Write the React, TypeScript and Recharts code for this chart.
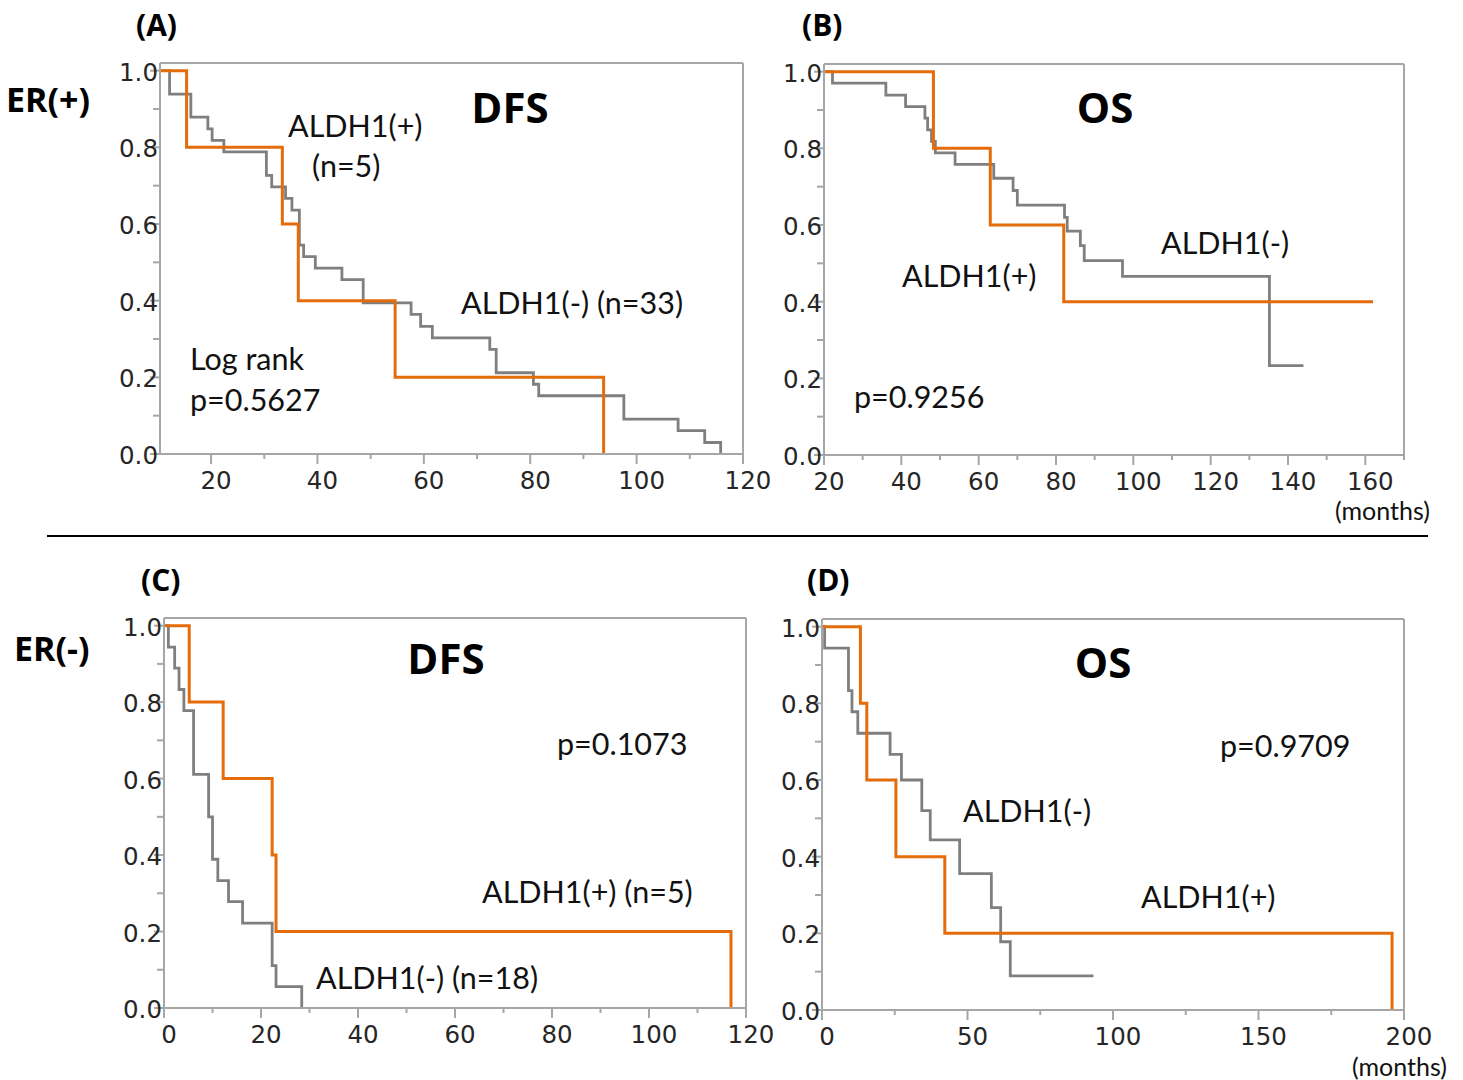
import React from "react";
import { LineChart, Line, XAxis, YAxis, ReferenceLine } from "recharts";

// survival curves: time (months) at which survival becomes the value at the same index,
// last entry is the end of follow-up

// (A) ER(+) DFS
const aNegTime = [0, 12.2, 16.2, 19.4, 20.2, 22.4, 30.4, 31.4, 34, 35.2, 36.6, 37.4, 39.6, 44.6, 48.6, 57.6, 59.4, 61.6, 72.4, 73.6, 80.6, 81.6, 97.6, 107.8, 112.8, 115.8];
const aNegSurv = [1, 0.939, 0.879, 0.848, 0.818, 0.788, 0.727, 0.697, 0.667, 0.636, 0.545, 0.515, 0.485, 0.455, 0.394, 0.364, 0.333, 0.303, 0.273, 0.212, 0.182, 0.152, 0.091, 0.061, 0.03, 0];
const aPosTime = [0, 15.4, 33.4, 36.4, 54.6, 93.8];
const aPosSurv = [1, 0.8, 0.6, 0.4, 0.2, 0];

// (B) ER(+) OS
const bNegTime = [0, 22.2, 36, 41.1, 46.1, 46.8, 47.8, 48.8, 53.9, 63.9, 68.9, 70, 82.2, 82.9, 86.3, 87.3, 97.2, 135.2, 144];
const bNegSurv = [1, 0.97, 0.939, 0.909, 0.879, 0.848, 0.818, 0.788, 0.758, 0.722, 0.69, 0.652, 0.62, 0.584, 0.546, 0.507, 0.466, 0.233, 0.233];
const bPosTime = [0, 48.3, 63, 82, 162];
const bPosSurv = [1, 0.8, 0.6, 0.4, 0.4];

// (C) ER(-) DFS
const cNegTime = [0, 0.9, 2.2, 3.1, 4.1, 6.1, 9.2, 10, 11.1, 13.3, 16.2, 22.3, 23.1, 28.4];
const cNegSurv = [1, 0.944, 0.889, 0.833, 0.778, 0.611, 0.5, 0.389, 0.333, 0.278, 0.222, 0.111, 0.056, 0];
const cPosTime = [0, 5.2, 12.2, 22.3, 23.1, 116.9];
const cPosSurv = [1, 0.8, 0.6, 0.4, 0.2, 0];

// (D) ER(-) OS
const dNegTime = [0, 0.9, 9.1, 10.3, 12.3, 23.4, 27.3, 34.3, 37.2, 47.3, 58.2, 61.4, 64.7, 93.3];
const dNegSurv = [1, 0.944, 0.833, 0.778, 0.722, 0.667, 0.6, 0.52, 0.444, 0.356, 0.267, 0.178, 0.089, 0.089];
const dPosTime = [0, 13.2, 15.4, 25.4, 42.2, 195.9];
const dPosSurv = [1, 0.8, 0.6, 0.4, 0.2, 0];

const yTicks = [0, 0.1, 0.2, 0.3, 0.4, 0.5, 0.6, 0.7, 0.8, 0.9, 1.0];
const aTicks = [20, 30, 40, 50, 60, 70, 80, 90, 100, 110, 120];
const bTicks = [20, 30, 40, 50, 60, 70, 80, 90, 100, 110, 120, 130, 140, 150, 160, 170];
const cTicks = [0, 10, 20, 30, 40, 50, 60, 70, 80, 90, 100, 110, 120];
const dTicks = [0, 25, 50, 75, 100, 125, 150, 175, 200];

const GRAY = "#7f7f7f";
const ORANGE = "#e46c0a";
const FRAME = "#a6a6a6";
const TICK_FONT = "'DejaVu Sans', sans-serif";
const TEXT_FONT = "Lato, sans-serif";
const BOLD_FONT = "'Open Sans', sans-serif";

const toRows = (t: number[], s: number[]) => t.map((v, i) => ({ t: v, s: s[i] }));

const renderYTick = (props: any) => {
  const { x, y, payload } = props;
  const v = payload.value;
  const major = Math.round(v * 10) % 2 === 0;
  return (
    <g>
      <line x1={x - (major ? 10 : 7)} x2={x} y1={y} y2={y} stroke={FRAME} strokeWidth={2} />
      {major && (
        <text x={x - 2} y={y + 10} textAnchor="end" fontFamily={TICK_FONT} fontSize={24.5} fill="#262626">
          {v.toFixed(1)}
        </text>
      )}
    </g>
  );
};

const makeXTick = (step: number) => (props: any) => {
  const { x, y, payload } = props;
  const major = payload.value % step === 0;
  return (
    <g>
      <line x1={x} x2={x} y1={y} y2={y + (major ? 10 : 5)} stroke={FRAME} strokeWidth={2} />
      {major && (
        <text x={x + 5} y={y + 35} textAnchor="middle" fontFamily={TICK_FONT} fontSize={24.5} fill="#262626">
          {payload.value}
        </text>
      )}
    </g>
  );
};

interface PanelProps {
  left: number;
  top: number;
  w: number;
  h: number;
  xDomain: [number, number];
  xTicks: number[];
  step: number;
  neg: { t: number; s: number }[];
  pos: { t: number; s: number }[];
}

const Panel = ({ left, top, w, h, xDomain, xTicks, step, neg, pos }: PanelProps) => (
  <div style={{ position: "absolute", left: left - 80, top: top - 10 }}>
    <LineChart width={w + 125} height={h + 70} margin={{ top: 10, right: 45, bottom: 0, left: 0 }}>
      <XAxis
        type="number"
        dataKey="t"
        domain={xDomain}
        ticks={xTicks}
        interval={0}
        allowDataOverflow
        height={60}
        tickSize={0}
        tickMargin={0}
        tickLine={false}
        axisLine={{ stroke: FRAME, strokeWidth: 2 }}
        tick={makeXTick(step)}
      />
      <YAxis
        type="number"
        domain={[0, 1.02]}
        ticks={yTicks}
        interval={0}
        allowDataOverflow
        width={80}
        tickSize={0}
        tickMargin={0}
        tickLine={false}
        axisLine={{ stroke: FRAME, strokeWidth: 2 }}
        tick={renderYTick}
      />
      <ReferenceLine y={1.02} stroke={FRAME} strokeWidth={2} />
      <ReferenceLine x={xDomain[1]} stroke={FRAME} strokeWidth={2} />
      <Line data={neg} dataKey="s" type="stepAfter" stroke={GRAY} strokeWidth={2.8} dot={false} isAnimationActive={false} />
      <Line data={pos} dataKey="s" type="stepAfter" stroke={ORANGE} strokeWidth={3} dot={false} isAnimationActive={false} />
    </LineChart>
  </div>
);

const T = ({ x, y, children, size = 30.5 }: any) => (
  <text x={x} y={y} fontFamily={TEXT_FONT} fontSize={size} fill="#111">
    {children}
  </text>
);

const B = ({ x, y, children, size = 42, anchor = "start" }: any) => (
  <text x={x} y={y} fontFamily={BOLD_FONT} fontWeight={700} fontSize={size} fill="#000" textAnchor={anchor}>
    {children}
  </text>
);

export default function App() {
  return (
    <div style={{ position: "absolute", left: 0, top: 0, width: 1463, height: 1080, background: "#fff", overflow: "hidden" }}>
      <Panel left={160} top={63} w={583} h={391} xDomain={[10.4, 120]} xTicks={aTicks} step={20}
        neg={toRows(aNegTime, aNegSurv)} pos={toRows(aPosTime, aPosSurv)} />
      <Panel left={824} top={64} w={580} h={391} xDomain={[20, 170]} xTicks={bTicks} step={20}
        neg={toRows(bNegTime, bNegSurv)} pos={toRows(bPosTime, bPosSurv)} />
      <Panel left={164} top={618} w={582} h={390} xDomain={[0, 120]} xTicks={cTicks} step={20}
        neg={toRows(cNegTime, cNegSurv)} pos={toRows(cPosTime, cPosSurv)} />
      <Panel left={822} top={619} w={582} h={391} xDomain={[0, 200]} xTicks={dTicks} step={50}
        neg={toRows(dNegTime, dNegSurv)} pos={toRows(dPosTime, dPosSurv)} />

      <svg width={1463} height={1080} style={{ position: "absolute", left: 0, top: 0, pointerEvents: "none" }}>
        <line x1={47} x2={1428} y1={536} y2={536} stroke="#000" strokeWidth={2} />

        <B x={136} y={36} size={30}>(A)</B>
        <B x={802} y={36} size={30}>(B)</B>
        <B x={141} y={591} size={30}>(C)</B>
        <B x={807} y={591} size={30}>(D)</B>
        <B x={6} y={112} size={34}>ER(+)</B>
        <B x={14} y={661} size={34}>ER(-)</B>

        <B x={510} y={123} anchor="middle">DFS</B>
        <B x={1105} y={123} anchor="middle">OS</B>
        <B x={446} y={674} anchor="middle">DFS</B>
        <B x={1103} y={678} anchor="middle">OS</B>

        <T x={288} y={137}>ALDH1(+)</T>
        <T x={312} y={177}>(n=5)</T>
        <T x={461} y={314}>ALDH1(-) (n=33)</T>
        <T x={190} y={370}>Log rank</T>
        <T x={190} y={411}>p=0.5627</T>

        <T x={1161} y={254}>ALDH1(-)</T>
        <T x={902} y={287}>ALDH1(+)</T>
        <T x={854} y={408}>p=0.9256</T>
        <T x={1335} y={520} size={25}>(months)</T>

        <T x={557} y={755}>p=0.1073</T>
        <T x={482} y={903}>ALDH1(+) (n=5)</T>
        <T x={316} y={989}>ALDH1(-) (n=18)</T>

        <T x={1220} y={757}>p=0.9709</T>
        <T x={963} y={822}>ALDH1(-)</T>
        <T x={1141} y={908}>ALDH1(+)</T>
        <T x={1352} y={1076} size={25}>(months)</T>
      </svg>
    </div>
  );
}
